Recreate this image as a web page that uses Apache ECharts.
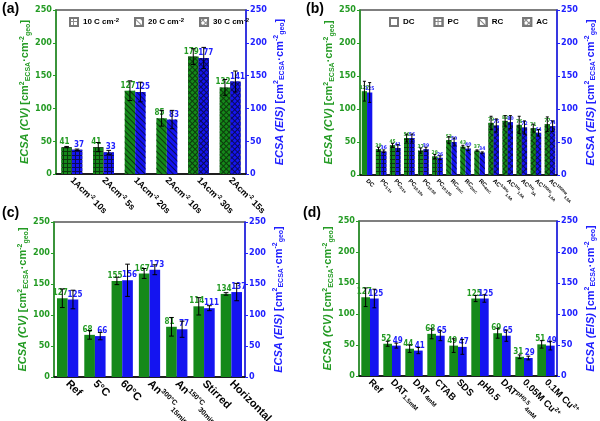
<!DOCTYPE html>
<html>
<head>
<meta charset="utf-8">
<script src="https://cdn.jsdelivr.net/npm/echarts@6/dist/echarts.min.js"></script>
<style>
  html, body { margin: 0; padding: 0; background: #fff; }
  #main { width: 600px; height: 421px; }
</style>
</head>
<body>
<div id="main"></div>
<script>
// (a) current density / time
var catsA = ['1Acm{sup|-2} 10s', '2Acm{sup|-2} 5s', '1Acm{sup|-2} 20s', '2Acm{sup|-2} 10s', '1Acm{sup|-2} 30s', '2Acm{sup|-2} 15s'];
var cvA = [41, 41, 127, 85, 179, 132];
var eisA = [37, 33, 125, 83, 177, 141];
var cvErrA = [1, 7, 15, 12, 12, 12];
var eisErrA = [1, 3, 15, 14, 16, 16];
var patA = ['grid', 'grid', 'diag', 'diag', 'cross', 'cross'];

// (b) current modes
var catsB = ['DC', 'PC{sub|1:1s}', 'PC{sub|5:1s}', 'PC{sub|10:10s}', 'PC{sub|10:50}', 'PC{sub|10:100}',
  'RC{sub|1mC}', 'RC{sub|2mC}', 'RC{sub|4mC}', 'AC{sup|0.5Hz}{sub|1.5A}', 'AC{sup|1Hz}{sub|1.5A}',
  'AC{sup|2Hz}{sub|2A}', 'AC{sup|100Hz}{sub|1.5A}', 'AC{sup|1000Hz}{sub|1.5A}'];
var cvB = [127, 39, 45, 56, 37, 28, 53, 43, 37, 79, 82, 76, 71, 77];
var eisB = [125, 36, 41, 56, 39, 26, 50, 40, 34, 75, 80, 72, 64, 74];
var cvErrB = [15, 3, 3, 6, 4, 3, 5, 2, 1, 10, 8, 13, 6, 11];
var eisErrB = [15, 2, 5, 6, 3, 3, 6, 3, 1, 10, 10, 10, 5, 8];
var patB = ['none', 'grid', 'grid', 'grid', 'grid', 'grid', 'diag', 'diag', 'diag', 'cross', 'cross', 'cross', 'cross', 'cross'];

// (c) bath conditions
var catsC = ['Ref', '5°C', '60°C', 'An{sup|300°C}{sub|15min}', 'An{sup|150°C}{sub|30min}', 'Stirred', 'Horizontal'];
var cvC = [127, 68, 155, 167, 81, 114, 134];
var eisC = [125, 66, 156, 173, 77, 111, 137];
var cvErrC = [15, 7, 6, 8, 15, 14, 2];
var eisErrC = [15, 6, 26, 8, 13, 4, 14];

// (d) additives
var catsD = ['Ref', 'DAT{sub|1.5mM}', 'DAT{sub|4mM}', 'CTAB', 'SDS', 'pH0.5', 'DAT{sup|pH0.5}{sub|4mM}', '0.05M Cu{sup|2+}', '0.1M Cu{sup|2+}'];
var cvD = [127, 52, 44, 68, 49, 125, 69, 31, 51];
var eisD = [125, 49, 41, 65, 47, 125, 65, 29, 49];
var cvErrD = [15, 4, 6, 8, 11, 5, 8, 3, 6];
var eisErrD = [15, 4, 5, 8, 12, 6, 9, 3, 7];

var legendA = ['10 C cm-2', '20 C cm-2', '30 C cm-2'];
var legendAPat = ['grid', 'diag', 'cross'];
var legendB = ['DC', 'PC', 'RC', 'AC'];
var legendBPat = ['none', 'grid', 'diag', 'cross'];

var GREEN = '#15891a', GREEN_T = '#249b24', GREEN_D = '#0c3a0c';
var BLUE = '#1414f0', BLUE_T = '#2020ff', BLUE_D = '#0a0a5a';
var FONT = 'Liberation Sans, Arial, sans-serif';
var NARROW = '"Liberation Sans Narrow", "DejaVu Sans Condensed", "Liberation Sans", sans-serif';

function styleFor(p, base, dark) {
    if (p === 'grid') return {color: dark, decal: {symbol: 'rect', color: base, dashArrayX: [3, 1], dashArrayY: [3, 1], symbolSize: 1}};
    if (p === 'diag') return {color: base, decal: {symbol: 'rect', color: dark, dashArrayX: [1, 0], dashArrayY: [1, 3], rotation: Math.PI / 4}};
    if (p === 'cross') return {color: dark, decal: {symbol: 'rect', color: base, dashArrayX: [3, 1], dashArrayY: [3, 1], rotation: Math.PI / 4, symbolSize: 1}};
    return {color: base};
}

var panels = [
    {tag: '(a)', cats: catsA, cv: cvA, eis: eisA, cvErr: cvErrA, eisErr: eisErrA, pats: patA,
        grid: {left: 56, top: 10, width: 190, height: 164}, gap: 0.34, lbl: 8, off: 2, xl: 9, tx: 2, ty: 2},
    {tag: '(b)', cats: catsB, cv: cvB, eis: eisB, cvErr: cvErrB, eisErr: eisErrB, pats: patB,
        grid: {left: 360, top: 10, width: 197, height: 165}, gap: 0.25, lbl: 5, off: 0, xl: 6, tx: 306, ty: 2},
    {tag: '(c)', cats: catsC, cv: cvC, eis: eisC, cvErr: cvErrC, eisErr: eisErrC, pats: null,
        grid: {left: 54, top: 222, width: 191, height: 155}, gap: 0.22, lbl: 8, off: 2, xl: 11, tx: 2, ty: 206},
    {tag: '(d)', cats: catsD, cv: cvD, eis: eisD, cvErr: cvErrD, eisErr: eisErrD, pats: null,
        grid: {left: 359, top: 221, width: 198, height: 155}, gap: 0.21, lbl: 8, off: 1.5, xl: 9.5, tx: 303, ty: 206}
];

function axName(kind, color) {
    var st = {fontSize: 11, fontWeight: 'bold', fontFamily: FONT, color: color, lineHeight: 13};
    var small = {fontSize: 7, lineHeight: 7, fontWeight: 'bold', fontFamily: FONT, color: color};
    return {
        text: '{i|ECSA (' + kind + ')} {n|[cm}{sup|2}{sub|ECSA}{n|·cm}{sup|-2}{sub|geo}{n|]}',
        style: {
            color: color, fontFamily: FONT, fontWeight: 'bold', fontSize: 11,
            rich: {
                i: Object.assign({}, st, {fontStyle: 'italic'}),
                n: st,
                sup: Object.assign({}, small, {verticalAlign: 'top'}),
                sub: Object.assign({}, small, {verticalAlign: 'bottom'})
            }
        }
    };
}

function errSeries(gi, vals, errs, side, gap) {
    return {
        type: 'custom', xAxisIndex: gi, yAxisIndex: gi * 2, z: 5, silent: true,
        data: vals.map(function (v, i) { return [i, v, errs[i]]; }),
        encode: {x: 0, y: 1},
        renderItem: function (params, api) {
            var x = api.value(0), v = api.value(1), e = api.value(2);
            var hi = api.coord([x, v + e]);
            var lo = api.coord([x, v - e]);
            var band = api.size([1, 0])[0];
            var bw = band * (1 - gap) / 2;
            var cx = hi[0] + side * bw / 2;
            var cap = Math.max(1.5, bw * 0.22);
            var st = {stroke: '#000', lineWidth: 1};
            return {type: 'group', children: [
                {type: 'line', shape: {x1: cx, y1: hi[1], x2: cx, y2: lo[1]}, style: st},
                {type: 'line', shape: {x1: cx - cap, y1: hi[1], x2: cx + cap, y2: hi[1]}, style: st},
                {type: 'line', shape: {x1: cx - cap, y1: lo[1], x2: cx + cap, y2: lo[1]}, style: st}
            ]};
        }
    };
}

var grids = [], xAxes = [], yAxes = [], series = [], graphics = [];

panels.forEach(function (p, gi) {
    grids.push(Object.assign({show: true, borderColor: '#555', borderWidth: 1.5, backgroundColor: 'transparent',
        containLabel: false, outerBoundsMode: 'none'}, p.grid));
    var supX = {fontSize: p.xl * 0.65, lineHeight: p.xl * 0.7, verticalAlign: 'top', fontWeight: 'bold', fontFamily: FONT, color: '#000'};
    var subX = Object.assign({}, supX, {verticalAlign: 'bottom'});
    xAxes.push({
        gridIndex: gi, type: 'category', data: p.cats,
        axisLine: {lineStyle: {color: '#000', width: 1.5}},
        axisTick: {show: false},
        axisLabel: {
            interval: 0, rotate: -45, margin: 5, color: '#000', fontWeight: 'bold', fontSize: p.xl, fontFamily: FONT,
            lineHeight: p.xl * 1.2, rich: {sup: supX, sub: subX}
        }
    });
    var yl = axName('CV', GREEN_T), yr = axName('EIS', BLUE_T);
    yAxes.push({
        gridIndex: gi, type: 'value', min: 0, max: 250, interval: 50, position: 'left',
        axisLine: {show: true, lineStyle: {color: GREEN_T, width: 1.5}},
        axisTick: {show: true, length: 3, lineStyle: {color: GREEN_T}},
        axisLabel: {color: GREEN_T, fontWeight: 'bold', fontSize: 9, fontFamily: NARROW, margin: 4},
        splitLine: {show: false},
        name: yl.text, nameLocation: 'middle', nameGap: 20, nameTextStyle: yl.style
    });
    yAxes.push({
        gridIndex: gi, type: 'value', min: 0, max: 250, interval: 50, position: 'right',
        axisLine: {show: true, lineStyle: {color: BLUE_T, width: 1.5}},
        axisTick: {show: true, length: 3, lineStyle: {color: BLUE_T}},
        axisLabel: {color: BLUE_T, fontWeight: 'bold', fontSize: 9, fontFamily: NARROW, margin: 4},
        splitLine: {show: false},
        name: yr.text, nameLocation: 'middle', nameGap: 27, nameTextStyle: yr.style
    });
    var lab = function (c, dx) {
        return {show: true, position: 'top', distance: 1, offset: [dx, 0], color: c, fontWeight: 'bold',
            fontSize: p.lbl, fontFamily: NARROW};
    };
    series.push({
        type: 'bar', name: 'CV' + gi, xAxisIndex: gi, yAxisIndex: gi * 2,
        barCategoryGap: (p.gap * 100) + '%', barGap: '0%',
        label: lab(GREEN_T, -p.off),
        data: p.cv.map(function (v, i) { return {value: v, itemStyle: styleFor(p.pats ? p.pats[i] : 'none', GREEN, GREEN_D)}; })
    });
    series.push({
        type: 'bar', name: 'EIS' + gi, xAxisIndex: gi, yAxisIndex: gi * 2,
        barCategoryGap: (p.gap * 100) + '%', barGap: '0%',
        label: lab(BLUE_T, p.off),
        data: p.eis.map(function (v, i) { return {value: v, itemStyle: styleFor(p.pats ? p.pats[i] : 'none', BLUE, BLUE_D)}; })
    });
    series.push(errSeries(gi, p.cv, p.cvErr, -1, p.gap));
    series.push(errSeries(gi, p.eis, p.eisErr, 1, p.gap));
    graphics.push({type: 'text', left: p.tx, top: p.ty,
        style: {text: p.tag, font: 'bold 14px ' + FONT, fill: '#000'}});
});

// hidden grid holding legend-only series
grids.push({left: -50, top: -50, width: 1, height: 1, show: false, outerBoundsMode: 'none'});
xAxes.push({gridIndex: 4, type: 'category', show: false, data: []});
yAxes.push({gridIndex: 4, type: 'value', show: false});
var legIdx = 4 * 2;
legendA.concat(legendB).forEach(function (n, k) {
    var pat = k < 3 ? legendAPat[k] : legendBPat[k - 3];
    var st = styleFor(pat, '#ffffff', '#8a8a8a');
    st.borderColor = '#777';
    st.borderWidth = 0.8;
    series.push({type: 'bar', name: n, xAxisIndex: 4, yAxisIndex: legIdx, data: [], itemStyle: st});
});

var legendText = {
    color: '#000', fontWeight: 'bold', fontSize: 8, fontFamily: FONT,
    rich: {sup: {fontSize: 6, verticalAlign: 'top', lineHeight: 6, fontWeight: 'bold', color: '#000', fontFamily: FONT},
        n: {fontSize: 8, lineHeight: 10, fontWeight: 'bold', color: '#000', fontFamily: FONT}}
};

var option = {
    animation: false,
    textStyle: {fontFamily: FONT},
    grid: grids,
    xAxis: xAxes,
    yAxis: yAxes,
    legend: [
        {data: legendA, left: 64, top: 12, itemWidth: 8, itemHeight: 8, itemGap: 15, icon: 'rect',
            selectedMode: false, textStyle: legendText,
            formatter: function (n) { return '{n|' + n.replace(' cm-2', ' cm') + '}{sup|-2}'; }},
        {data: legendB, left: 384, top: 12, itemWidth: 8, itemHeight: 8, itemGap: 19, icon: 'rect',
            selectedMode: false, textStyle: legendText}
    ],
    graphic: graphics,
    series: series
};

var chart = echarts.init(document.getElementById('main'), null, {renderer: 'canvas'});
chart.setOption(option);
</script>
</body>
</html>
